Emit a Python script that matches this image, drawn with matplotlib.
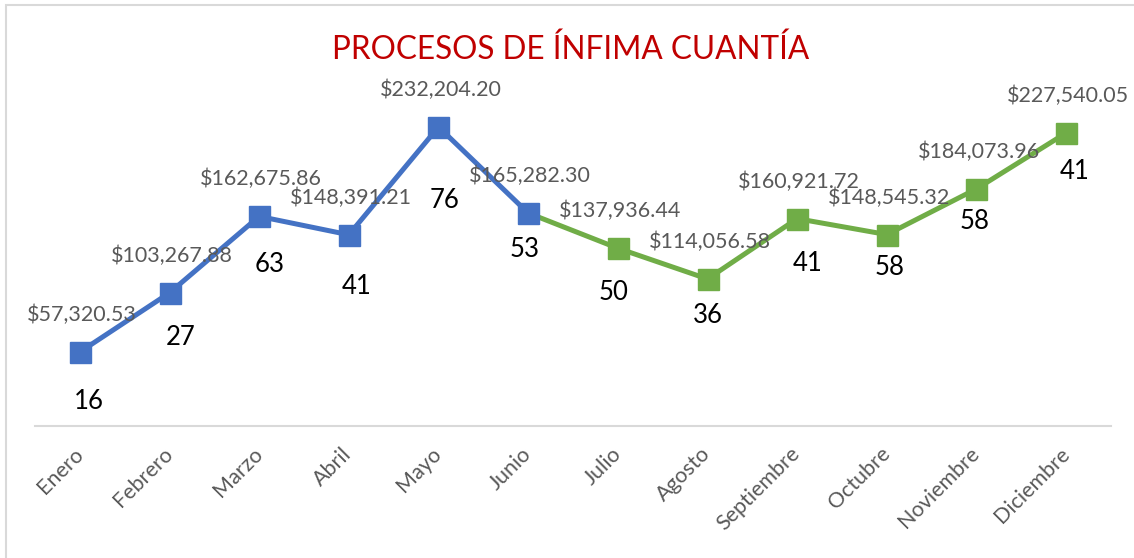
import numpy as np
import matplotlib.pyplot as plt
from matplotlib.patches import Rectangle

meses = ['Enero', 'Febrero', 'Marzo', 'Abril', 'Mayo', 'Junio', 'Julio',
         'Agosto', 'Septiembre', 'Octubre', 'Noviembre', 'Diciembre']
montos = [57320.53, 103267.88, 162675.86, 148391.21, 232204.20, 165282.30,
          137936.44, 114056.58, 160921.72, 148545.32, 184073.96, 227540.05]
procesos = [16, 27, 63, 41, 76, 53, 50, 36, 41, 58, 58, 41]

plt.rcParams['font.family'] = ['Lato', 'DejaVu Sans']

azul = '#4472C4'
verde = '#70AD47'
gris = '#595959'

px = 72 / 100  # pixels -> points

fig = plt.figure(figsize=(11.34, 5.58), dpi=100)
ax = fig.add_axes([35 / 1134, 1 - 425.75 / 558, 1076 / 1134, 321.75 / 558])

x = np.arange(len(meses))
# segundo semestre en verde (desde Junio)
ax.plot(x[5:], montos[5:], color=verde, lw=5 * px, marker='s', ms=21 * px,
        markevery=list(range(1, 7)), solid_capstyle='butt', zorder=2)
ax.plot(x[:6], montos[:6], color=azul, lw=5 * px, marker='s', ms=21 * px,
        solid_capstyle='butt', zorder=3)

ax.set_xlim(-0.5, len(meses) - 0.5)
ax.set_ylim(0, 250000)

# etiquetas de monto
for i, m in enumerate(montos):
    ax.annotate('${:,.2f}'.format(m), (x[i], m), xytext=(2 * px, 37 * px),
                textcoords='offset points', ha='center', va='center',
                fontsize=15.5, color=gris, zorder=4)

# etiquetas de numero de procesos (colocadas a mano)
desp = [(9, 50), (11, 45), (10, 48), (8, 52), (6, 74), (-4, 36),
        (-4, 44), (0, 37), (10, 45), (3, 33), (-2, 33), (8, 39)]
for i, n in enumerate(procesos):
    dx, dy = desp[i]
    ax.annotate(str(n), (x[i], montos[i]), xytext=(dx * px, -dy * px),
                textcoords='offset points', ha='center', va='center',
                fontsize=18.5, color='black', zorder=4)

for s in ['top', 'right', 'left']:
    ax.spines[s].set_visible(False)
ax.spines['bottom'].set_color('#D9D9D9')
ax.spines['bottom'].set_linewidth(1.5)
ax.set_yticks([])
ax.set_xticks(x)
ax.set_xticklabels(meses, rotation=45, ha='right', va='center',
                   rotation_mode='anchor', fontsize=15.5, color=gris)
ax.tick_params(axis='x', length=0, pad=18)

fig.text(571 / 1134, 1 - 50 / 558, 'PROCESOS DE ÍNFIMA CUANTÍA',
         ha='center', va='center', fontsize=22.7, color='#C00000')

fig.patches.append(Rectangle((5.5 / 1134, -0.1), 1.2, 1.1 - 5.5 / 558,
                             transform=fig.transFigure, fill=False,
                             edgecolor='#D9D9D9', lw=1.5))

fig.savefig('out.png', dpi=100)
